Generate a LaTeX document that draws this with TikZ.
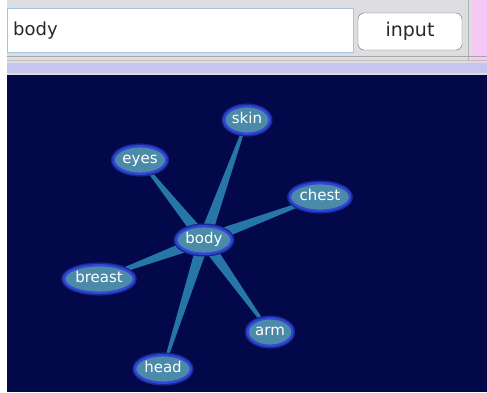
\documentclass[tikz,border=0pt]{standalone}
\usepackage{fontspec}
\setmainfont{DejaVu Sans}
\usetikzlibrary{shapes.geometric, calc, backgrounds}

\definecolor{navybg}{RGB}{3,8,74}
\definecolor{spokeblue}{RGB}{38,118,168}
\definecolor{termfill}{RGB}{76,138,170}
\definecolor{termring}{RGB}{48,70,214}
\definecolor{barlight}{RGB}{222,222,224}
\definecolor{barlav}{RGB}{200,196,240}
\definecolor{barpink}{RGB}{246,200,244}
\definecolor{fieldline}{RGB}{160,196,226}

\tikzset{
  term/.style={ellipse, fill=termfill, draw=termring, line width=2.4,
    preaction={draw=termring!50!navybg, line width=5.5},
    text=white, inner xsep=1pt, inner ysep=2.5pt,
    text height=11pt, text depth=3.5pt,
    font=\fontsize{15}{15}\selectfont},
  spokefill/.style={fill=spokeblue},
  uitext/.style={text={rgb,255:red,40;green,40;blue,40}, inner sep=0pt}
}

% tapered spoke from the hub to one term
\newcommand{\spoke}[2]{%
  \fill[spokefill] ($(#1)!6pt!90:(#2)$) -- ($(#2)!1pt!-90:(#1)$)
    -- ($(#2)!1pt!90:(#1)$) -- ($(#1)!6pt!-90:(#2)$) -- cycle;}

\begin{document}
\begin{tikzpicture}[x=1pt, y=-1pt]
\useasboundingbox (0,0) rectangle (487,392);

%%% search bar

\fill[barlight] (0,0) rectangle (487,75);
\fill[white] (0,0) rectangle (7,392);
\fill[barpink] (472,0) rectangle (487,63);
\draw[gray!60] (468,0) -- (468,60);
\fill[barlav] (7,63) rectangle (487,73);
\draw[gray!70] (7,56) -- (487,56);
\draw[gray!50] (7,60) -- (487,60);

% text field
\node [draw=fieldline, fill=white, line width=1.2, minimum width=346, minimum height=44,
  inner sep=0pt, anchor=north west] (field) at (7,8) {};
\node [uitext, anchor=west, font=\fontsize{18}{18}\selectfont] (query) at ([xshift=6] field.west) {body};

% button
\node [draw=gray!80!black, fill=white, rounded corners=6, minimum width=104, minimum height=37,
  inner sep=0pt, font=\fontsize{19}{19}\selectfont, text={rgb,255:red,40;green,40;blue,40}]
  (button) at (410,31.5) {input};

%%% graph

% hub
\node [term] (body) at (204,240) {body};

% terms
\node [term] (skin) at (247,120) {skin};
\node [term] (eyes) at (140,160) {eyes};
\node [term] (chest) at (320,197) {chest};
\node [term] (breast) at (99,279) {breast};
\node [term] (arm) at (270,332) {arm};
\node [term] (head) at (163,369) {head};

% spokes
\begin{pgfonlayer}{background}
\fill[navybg] (7,75) rectangle (487,392);
\spoke{body}{skin}
\spoke{body}{eyes}
\spoke{body}{chest}
\spoke{body}{breast}
\spoke{body}{arm}
\spoke{body}{head}
\end{pgfonlayer}

\end{tikzpicture}
\end{document}
